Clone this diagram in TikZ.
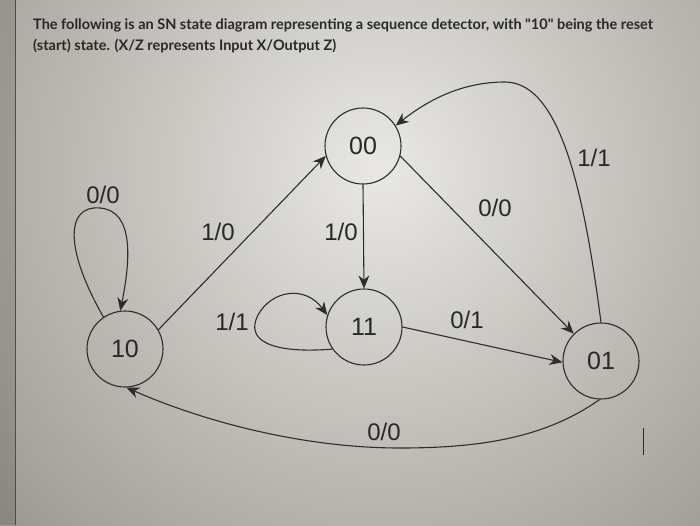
\documentclass[tikz,border=0pt]{standalone}
\usepackage{fontspec}
\setmainfont{Liberation Sans}
\newfontfamily\titlefont{Lato}
\usetikzlibrary{arrows.meta}
\definecolor{bgin}{RGB}{233,232,228}
\definecolor{bgout}{RGB}{145,140,133}
\definecolor{linec}{RGB}{45,45,45}
\definecolor{textc}{RGB}{40,40,40}
\begin{document}
\begin{tikzpicture}[x=1pt,y=-1pt,
  state/.style={circle,draw=linec,line width=1.1pt,minimum size=76pt,inner sep=0pt,font=\fontsize{25}{25}\selectfont,text=textc},
  lbl/.style={font=\fontsize{24}{24}\selectfont,text=textc,inner sep=0pt},
  tr/.style={draw=linec,line width=1.1pt,-{Stealth[length=13pt,width=11pt]}},
  titletext/.style={font=\titlefont\bfseries\fontsize{14.5}{17}\selectfont,text=textc,inner sep=0pt,anchor=base west}]
\useasboundingbox (0,0) rectangle (700,525);
\begin{scope}
  \clip (0,0) rectangle (700,525);
  \fill[bgout] (0,0) rectangle (700,525);
  \shade[inner color=bgin,outer color=bgout] (380,170) circle (600);
  \fill[black,opacity=0.12] (0,0) rectangle (15,525);
\end{scope}
\draw[gray!60!black,line width=0.6pt] (15,0) -- (15,525);

\node[titletext] (t1) at (33,29) {The following is an SN state diagram representing a sequence detector, with "10" being the reset};
\node[titletext] (t2) at (33,50) {(start) state. (X/Z represents Input X/Output Z)};

\node[state] (n00) at (363,146) {00};
\node[state] (n11) at (364,327) {11};
\node[state] (n10) at (125,349) {10};
\node[state] (n01) at (601,361) {01};

% straight transitions
\draw[tr] (n10.30) -- (n00.195);
\draw[tr] (n00.south) -- (n11.north);
\draw[tr] (n00.-15) -- (n01.135);
\draw[tr] (n11.east) -- (n01.182);

% curved transitions
\draw[tr] (n01.north) .. controls (585,200) and (562,82) .. (505,82)
  .. controls (462,82) and (428,100) .. (n00.32);
\draw[tr] (n01.-92) .. controls (545,438) and (480,448) .. (400,448)
  .. controls (300,448) and (200,420) .. (n10.-88);

% self loops
\draw[tr] (n10.124) .. controls (65,250) and (65,205) .. (100,208)
  .. controls (135,211) and (130,262) .. (n10.97);
\draw[tr] (n11.215) .. controls (270,354) and (245,340) .. (258,315)
  .. controls (272,290) and (305,285) .. (n11.162);

% labels
\node[lbl] (l1) at (103,195) {0/0};
\node[lbl] (l2) at (218,232) {1/0};
\node[lbl] (l3) at (341,232) {1/0};
\node[lbl] (l4) at (232,322) {1/1};
\node[lbl] (l5) at (495,208) {0/0};
\node[lbl] (l6) at (594,158) {1/1};
\node[lbl] (l7) at (467,320) {0/1};
\node[lbl] (l8) at (384,432) {0/0};

% cursor mark
\draw[linec,line width=0.9pt] (643,428) -- (643,455);
\end{tikzpicture}
\end{document}
